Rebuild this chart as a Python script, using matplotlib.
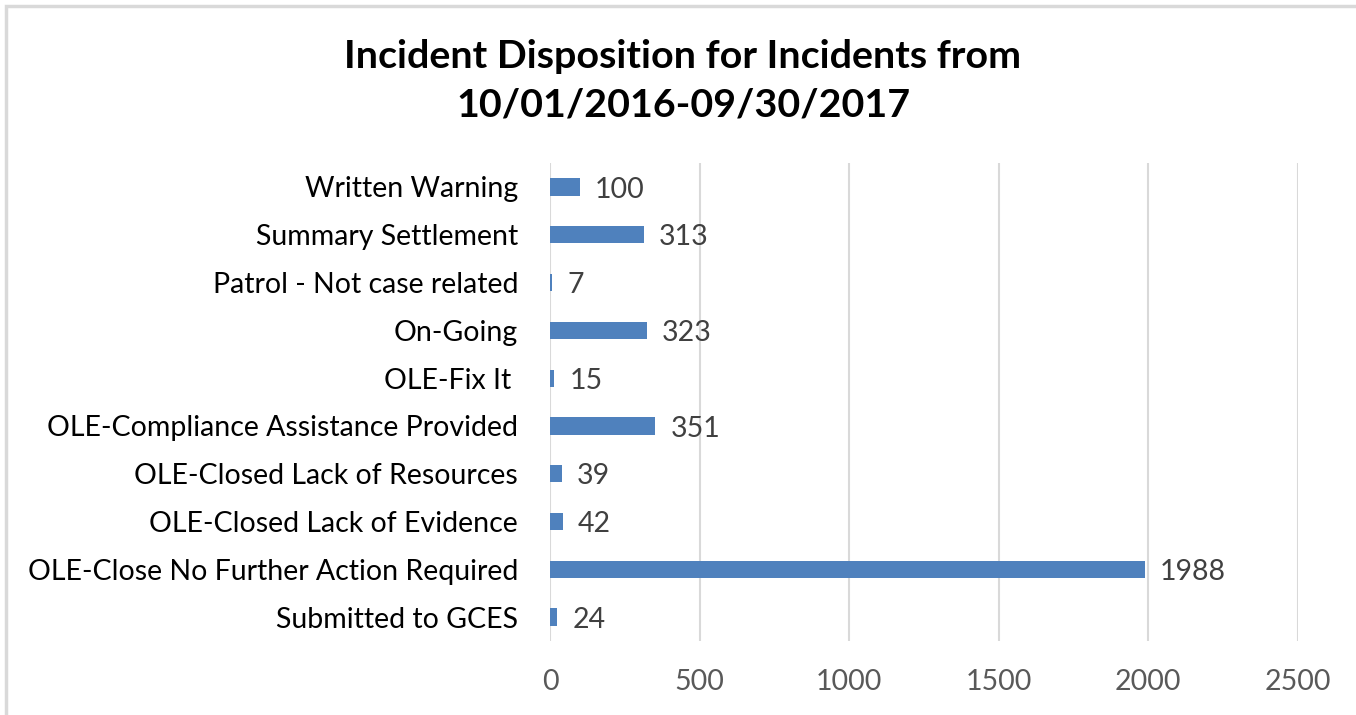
import matplotlib

matplotlib.use("Agg")
import matplotlib.pyplot as plt
from matplotlib.patches import Rectangle

plt.rcParams["font.family"] = ["Lato", "DejaVu Sans"]

# categories listed bottom to top
categories = [
    "Submitted to GCES",
    "OLE-Close No Further Action Required",
    "OLE-Closed Lack of Evidence",
    "OLE-Closed Lack of Resources",
    "OLE-Compliance Assistance Provided",
    "OLE-Fix It ",
    "On-Going",
    "Patrol - Not case related",
    "Summary Settlement",
    "Written Warning",
]
counts = [24, 1988, 42, 39, 351, 15, 323, 7, 313, 100]
x_ticks = [0, 500, 1000, 1500, 2000, 2500]

title = "Incident Disposition for Incidents from\n10/01/2016-09/30/2017"

fig = plt.figure(figsize=(13.56, 7.15), dpi=100)
ax = fig.add_axes([0.4056, 0.1035, 0.5516, 0.6685])

# outer chart border (light gray), runs off right/bottom edge
fig.patches.append(Rectangle((6 / 1356, -0.1), 1.2, 0.1 + (715 - 6) / 715,
                             transform=fig.transFigure, fill=False,
                             edgecolor="#d9d9d9", linewidth=2.5))

ypos = range(len(categories))
ax.barh(ypos, counts, height=0.36, color="#4f81bd", zorder=3)

for y, v in zip(ypos, counts):
    ax.annotate(str(v), (v, y), xytext=(11, -2), textcoords="offset points",
                va="center", ha="left", fontsize=20.5, color="#404040")

ax.set_xlim(0, 2500)
ax.set_ylim(-0.5, len(categories) - 0.5)
ax.set_xticks(x_ticks)
ax.set_xticklabels([str(t) for t in x_ticks], fontsize=20.5, color="#595959")
ax.set_yticks(list(ypos))
ax.set_yticklabels(categories, fontsize=20.5, color="#000000")
ax.tick_params(axis="both", length=0)
ax.tick_params(axis="x", pad=20)
ax.tick_params(axis="y", pad=23)

ax.grid(axis="x", color="#d9d9d9", linewidth=1.5, zorder=0)
for s in ax.spines.values():
    s.set_visible(False)

fig.text(683 / 1356, 1 - 81 / 715, title, ha="center", va="center",
         fontsize=28.4, fontweight="bold", color="#000000", linespacing=1.48)

fig.savefig("out.png", dpi=100)
